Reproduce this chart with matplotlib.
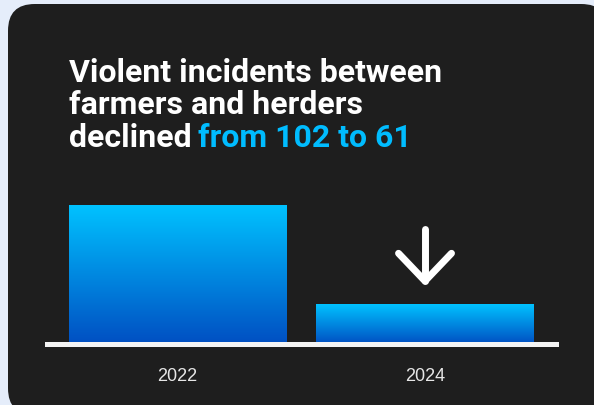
import matplotlib
matplotlib.use("Agg")
import matplotlib.pyplot as plt
import numpy as np
from matplotlib.patches import FancyBboxPatch
from matplotlib.colors import LinearSegmentedColormap

years = ["2022", "2024"]
incidents = [102, 61]

title_lines = ["Violent incidents between", "farmers and herders", "declined"]
title_highlight = "from 102 to 61"

BG = "#e5edfa"
CARD = "#1e1e1e"
CYAN = "#00bcff"
bar_cmap = LinearSegmentedColormap.from_list("bars", ["#004fc2", "#00c2ff"])

fig = plt.figure(figsize=(5.94, 4.06), dpi=100)
fig.patch.set_facecolor(BG)

# dark card behind everything
card = FancyBboxPatch((8 / 594, -10 / 406), 600 / 594, 411 / 406,
                      boxstyle="round,pad=0,rounding_size=0.045",
                      transform=fig.transFigure, facecolor=CARD,
                      edgecolor="none", zorder=-5, mutation_aspect=594 / 406)
fig.patches.append(card)

ax = fig.add_axes([46.7 / 594, 0.1507, 509 / 594, 0.3894])
ax.set_facecolor("none")

# title, line by line
line_y = [82, 114.5, 147]
for txt, y in zip(title_lines, line_y):
    t = fig.text(69 / 594, 1 - y / 406, txt, color="white", fontsize=23,
                 fontweight="bold", family="Roboto", va="baseline", ha="left")
ax.annotate(title_highlight, xy=(1, 0), xycoords=t, xytext=(4.5, 0),
            textcoords="offset points", va="bottom", ha="left",
            color=CYAN, fontsize=23, fontweight="bold", family="Roboto",
            annotation_clip=False)

x = np.arange(len(years))
bars = ax.bar(x, incidents, width=0.877, bottom=0, color="none")
ax.set_xlim(-0.5285, 1.528)
ax.set_ylim(44.5, 110)

grad = np.linspace(0, 1, 256).reshape(-1, 1)
for b in bars:
    x0, w, h = b.get_x(), b.get_width(), b.get_height()
    im = ax.imshow(grad, cmap=bar_cmap, origin="lower", aspect="auto",
                   extent=[x0, x0 + w, 44.5, h], zorder=2)
    im.set_clip_path(b)

ax.axhline(44.5, color="#f4f4f4", lw=3.6, clip_on=False, zorder=3)

# down arrow above the 2024 bar
v = incidents[1]
ax.plot([1, 1], [v + 9.5, v + 31], color="white", lw=5,
        solid_capstyle="round", zorder=4)
ax.plot([1 - 0.107, 1, 1 + 0.107], [v + 21, v + 9.5, v + 21], color="white",
        lw=5, solid_capstyle="round", solid_joinstyle="round", zorder=4)

ax.set_xticks(x)
ax.set_xticklabels(years, fontsize=13, color="#e6e6e6", family="Liberation Sans")
ax.tick_params(axis="x", length=0, pad=17)
ax.set_yticks([])
for s in ax.spines.values():
    s.set_visible(False)

fig.savefig("out.png", dpi=100, facecolor=BG)
